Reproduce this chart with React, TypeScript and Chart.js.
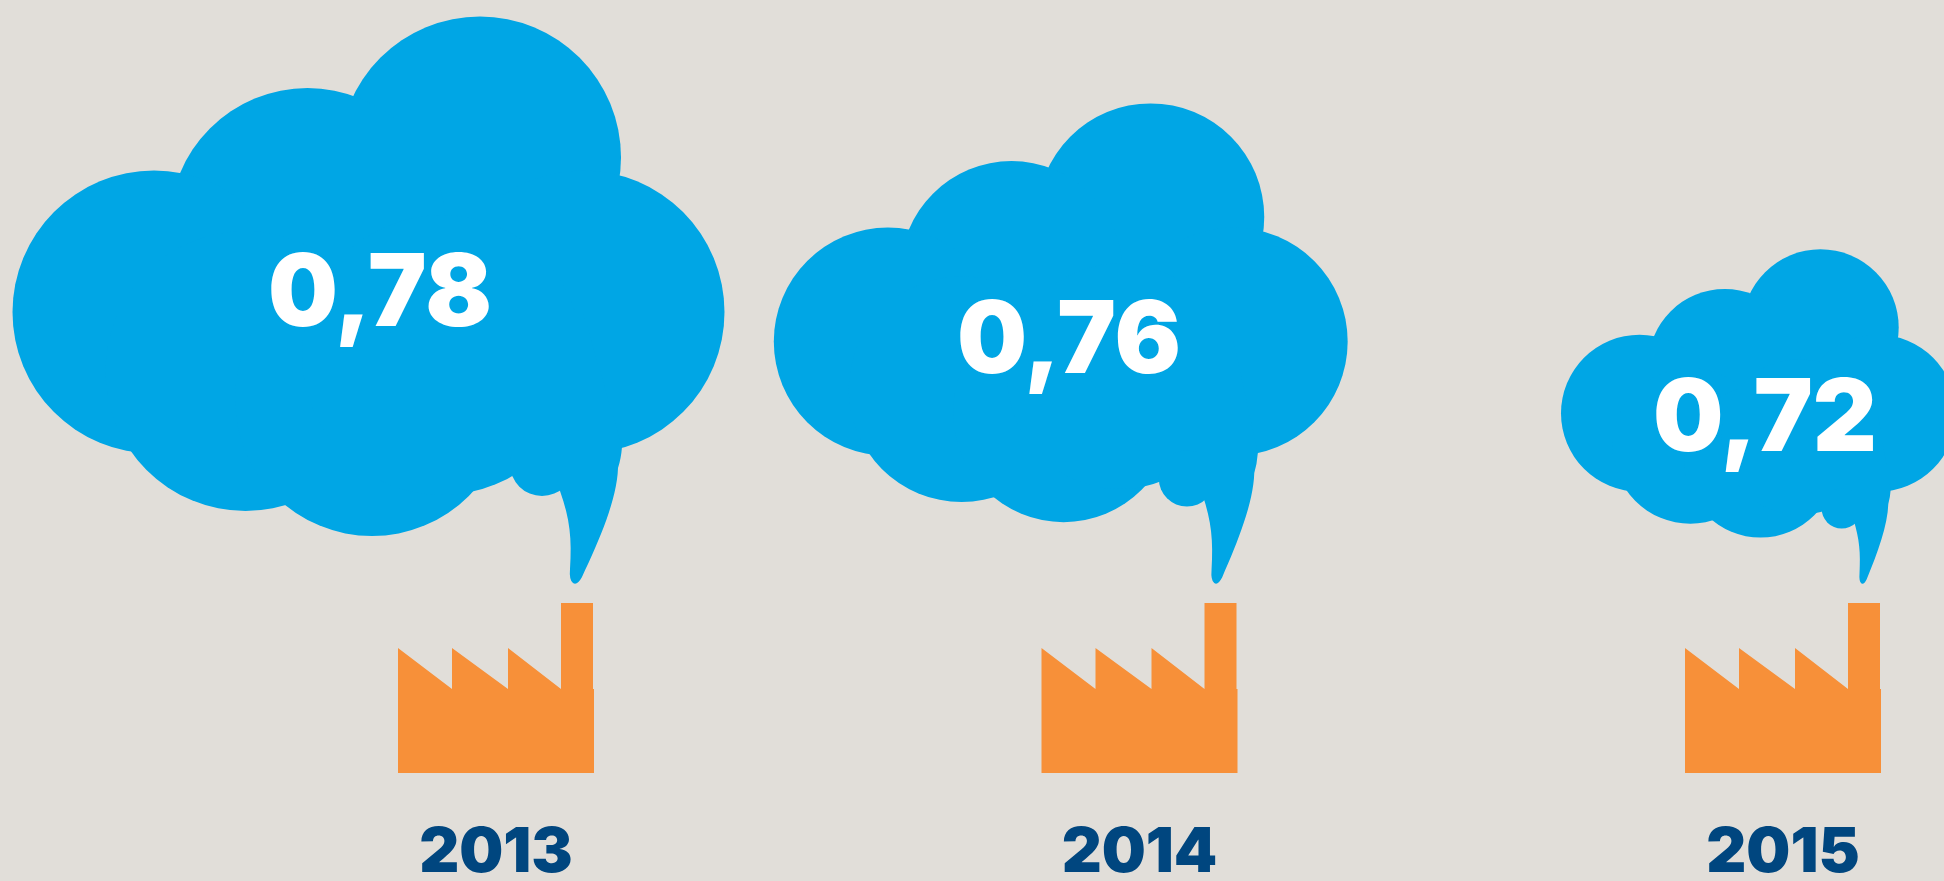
import React, { useEffect, useRef } from "react";
import { Chart, registerables } from "chart.js";

Chart.register(...registerables);

const years = ["2013", "2014", "2015"];
const emissions = [0.78, 0.76, 0.72];

const BG = "#e1ded9";
const CLOUD = "#00a6e5";
const ORANGE = "#f79039";
const NAVY = "#00467f";

// styling per cloud, not data
const cloudScale = [1, 0.806, 0.555];
const tipDx = [79, 76.5, 79.5];
const tailSx = [1, 0.89, 0.6];
const tailSy = [1, 0.956, 0.69];
const notchScale = [1, 0.88, 0.63];
const cloudLeft = [12.5, 773.8 - 1139.5, 1561 - 1783];
const labelDx = [-116, -70.5, -18];
const labelNudge = [0, 5.5, 0];
const cloudTopRel = [-274, -234, -165.5];

const lobes = [
  [480, 157.5, 141],
  [307.5, 226, 138],
  [154, 312, 141.5],
  [583, 312, 141.5],
  [245.5, 371, 140],
  [372, 399, 137],
  [442, 355, 140],
];

const factoryPts = [
  [-98, 0], [-98, -125], [-44, -84], [-44, -125], [12, -84], [12, -125], [65, -84],
  [65, -170], [97, -170], [97, -84], [98, -84], [98, 0],
];

const cloudPlugin = {
  id: "clouds",
  beforeDatasetsDraw(chart: any) {
    const { ctx } = chart;
    const meta = chart.getDatasetMeta(0);
    const base = chart.scales.x.bottom - chart.scales.x.height;
    meta.data.forEach((pt: any, i: number) => {
      const s = cloudScale[i];
      const topY = pt.y + labelNudge[i] + cloudTopRel[i];
      const leftX = i === 0 ? cloudLeft[0] : pt.x + cloudLeft[i];
      const X = (x: number) => leftX + s * (x - 12.5);
      const Y = (y: number) => topY + s * (y - 16);
      const tipX = pt.x + tipDx[i];
      const tipY = 584;
      const sx = tailSx[i];
      const sy = tailSy[i];
      const TX = (x: number) => tipX + sx * x;
      const TY = (y: number) => tipY + sy * y;
      const n = notchScale[i];
      const nx = tipX - 33 * n;
      const ny = tipY - 120 * n;
      const nr = 32 * n;

      ctx.save();
      ctx.fillStyle = CLOUD;
      for (const [x, y, r] of lobes) {
        ctx.beginPath();
        ctx.arc(X(x), Y(y), r * s, 0, Math.PI * 2);
        ctx.fill();
      }
      // body
      ctx.beginPath();
      ctx.moveTo(nx - 0.85 * nr, ny + 0.2 * nr);
      ctx.lineTo(TX(47), TY(-137));
      ctx.lineTo(X(583), Y(312));
      ctx.lineTo(X(372), Y(312));
      ctx.closePath();
      ctx.fill();
      // notch
      ctx.beginPath();
      ctx.arc(nx, ny, nr, 0, Math.PI * 2);
      ctx.fill();
      // tail
      ctx.beginPath();
      ctx.moveTo(TX(47), TY(-137));
      ctx.quadraticCurveTo(TX(46), TY(-125), TX(43), TY(-116));
      ctx.bezierCurveTo(TX(42), TY(-85), TX(25), TY(-45), TX(7), TY(-7));
      ctx.quadraticCurveTo(TX(2), TY(2), TX(-2), TY(-1));
      ctx.quadraticCurveTo(TX(-6), TY(-4), TX(-5), TY(-15));
      ctx.bezierCurveTo(TX(-3), TY(-45), TX(-5), TY(-65), TX(-15), TY(-93));
      ctx.lineTo(TX(-15), TY(-137));
      ctx.closePath();
      ctx.fill();

      // value label
      const text = emissions[i].toFixed(2).replace(".", ",");
      ctx.fillStyle = "#ffffff";
      ctx.font = '900 100px "Inter"';
      ctx.textAlign = "center";
      ctx.textBaseline = "alphabetic";
      const w = ctx.measureText(text).width;
      ctx.translate(pt.x + labelDx[i], pt.y + labelNudge[i] + 36);
      ctx.scale(224 / w, 1);
      ctx.fillText(text, 0, 0);
      ctx.restore();

      // factory
      ctx.save();
      ctx.fillStyle = ORANGE;
      ctx.beginPath();
      factoryPts.forEach(([x, y], k) => {
        if (k === 0) ctx.moveTo(pt.x + x, base + y);
        else ctx.lineTo(pt.x + x, base + y);
      });
      ctx.closePath();
      ctx.fill();
      ctx.restore();
    });
  },
};

export default function App() {
  const ref = useRef<HTMLCanvasElement>(null);
  useEffect(() => {
    document.body.style.margin = "0";
    const chart = new Chart(ref.current as HTMLCanvasElement, {
      type: "line",
      data: {
        labels: years,
        datasets: [
          {
            label: "Emissions",
            data: emissions,
            showLine: false,
            pointRadius: 0,
          },
        ],
      },
      options: {
        responsive: false,
        animation: false,
        layout: { padding: { left: 496, right: 161, top: 0, bottom: 0 } },
        plugins: { legend: { display: false }, tooltip: { enabled: false } },
        scales: {
          x: {
            type: "category",
            offset: false,
            grid: { display: false },
            border: { display: false },
            afterFit(scale: any) {
              scale.height = 108;
            },
            ticks: {
              autoSkip: false,
              maxRotation: 0,
              minRotation: 0,
              padding: 35,
              color: NAVY,
              font: { family: "Inter", weight: 900, size: 62 },
            },
          },
          y: { display: false, min: 0.5472, max: 0.9198 },
        },
      },
      plugins: [cloudPlugin],
    } as any);
    return () => chart.destroy();
  }, []);
  return (
    <canvas
      ref={ref}
      width={1944}
      height={881}
      style={{ display: "block", background: BG, width: 1944, height: 881 }}
    />
  );
}
